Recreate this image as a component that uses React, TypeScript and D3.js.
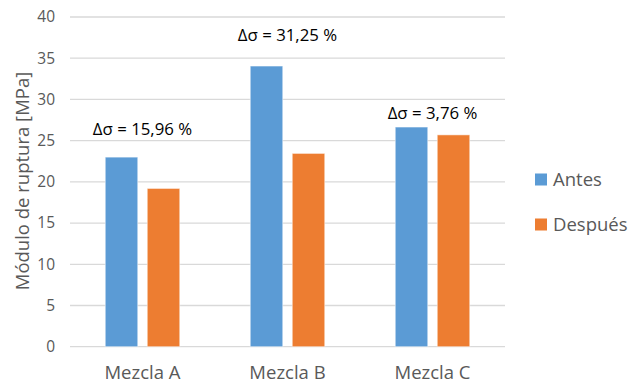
import React from "react";
import * as d3 from "d3";

const categories = ["Mezcla A", "Mezcla B", "Mezcla C"];
const antes = [23.0, 34.05, 26.65];
const despues = [19.2, 23.45, 25.7];
const deltas = ["Δσ = 15,96 %", "Δσ = 31,25 %", "Δσ = 3,76 %"];
const yTicks = [0, 5, 10, 15, 20, 25, 30, 35, 40];
const seriesNames = ["Antes", "Después"];
const colors = ["#5B9BD5", "#ED7D31"];

export default function App() {
  const W = 630, H = 386;
  const left = 70, right = 505, top = 17, bottom = 346.7;
  const x = d3.scaleBand<string>().domain(categories).range([left, right]).paddingInner(0).paddingOuter(0);
  const y = d3.scaleLinear().domain([0, 40]).range([bottom, top]);
  const barW = 32.5, gap = 9.5;
  const font = "'Open Sans', sans-serif";
  const deltaOffsets = [22, 25, 8];
  const deltaTop = (i: number) => y(Math.max(antes[i], despues[i]));
  return (
    <svg width={W} height={H} style={{ position: "absolute", left: 0, top: 0, background: "#fff" }} fontFamily={font}>
      {yTicks.map((t) => (
        <g key={t}>
          <line x1={left} x2={right} y1={y(t)} y2={y(t)} stroke="#D9D9D9" strokeWidth={1.3} />
          <text x={55} y={y(t)} dy="0.35em" textAnchor="end" fontSize={15.5} fill="#595959">{t}</text>
        </g>
      ))}
      {categories.map((c, i) => {
        const cx = (x(c) as number) + x.bandwidth() / 2;
        const vals = [antes[i], despues[i]];
        return (
          <g key={c}>
            {vals.map((v, j) => {
              const bx = j === 0 ? cx - gap / 2 - barW : cx + gap / 2;
              return (
                <rect key={j} x={bx} y={y(v)} width={barW} height={y(0) - y(v)} fill={colors[j]} stroke="#fff" strokeOpacity={0.5} strokeWidth={1} />
              );
            })}
            <text x={cx} y={379} textAnchor="middle" fontSize={18.5} fill="#595959">{c}</text>
            <text x={cx} y={deltaTop(i) - deltaOffsets[i]} textAnchor="middle" fontSize={16.8} fill="#000">{deltas[i]}</text>
          </g>
        );
      })}
      <text transform={`translate(29,181) rotate(-90)`} textAnchor="middle" fontSize={18.5} fill="#595959">Módulo de ruptura [MPa]</text>
      {seriesNames.map((s, j) => (
        <g key={s} transform={`translate(535,${173.5 + j * 45})`}>
          <rect x={0} y={0} width={12} height={12} fill={colors[j]} />
          <text x={18} y={6} dy="0.36em" fontSize={18.5} fill="#595959">{s}</text>
        </g>
      ))}
    </svg>
  );
}
